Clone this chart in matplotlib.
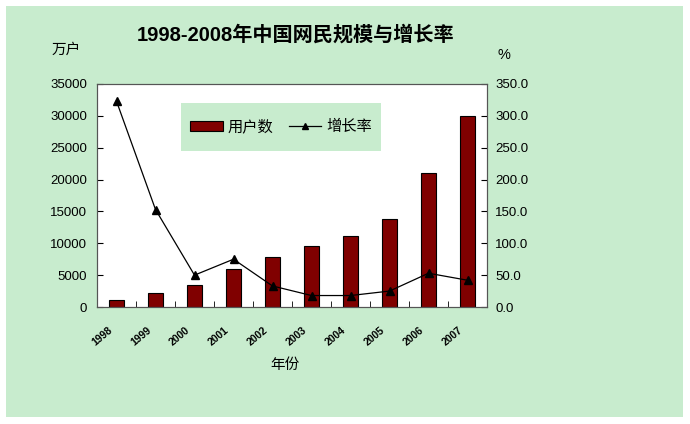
import matplotlib.pyplot as plt
from matplotlib.patches import Rectangle
from matplotlib.transforms import ScaledTranslation
import numpy as np

plt.rcParams['font.family'] = ['Liberation Sans', 'Noto Sans CJK SC']

years = ['1998', '1999', '2000', '2001', '2002', '2003', '2004', '2005', '2006', '2007']
users = [1175, 2250, 3500, 6000, 7900, 9500, 11100, 13800, 21000, 29900]
growth = [323, 153, 50, 75, 33, 18, 18, 25, 53, 42]

green = '#c8ecce'

fig = plt.figure(figsize=(6.9, 4.24), dpi=100)
fig.patch.set_facecolor('white')
# green chart area with white margin
fig.patches.append(Rectangle((6 / 690, 1 - 417 / 424), 677 / 690, 411 / 424,
                             transform=fig.transFigure, facecolor=green,
                             edgecolor='none', zorder=-10))

ax = fig.add_axes([97 / 690, 1 - 307 / 424, 390 / 690, 223 / 424])
ax.set_facecolor('white')
x = np.arange(len(years))
bars = ax.bar(x, users, width=0.41, color='#800000', edgecolor='black',
              linewidth=0.8, label='用户数')
ax.set_xlim(-0.5, len(years) - 0.5)
ax.set_ylim(0, 35000)
ax.set_yticks(range(0, 35001, 5000))
ax.tick_params(axis='y', direction='in', labelsize=9.5, length=4, pad=7)
ax.set_xticks(x)
ax.set_xticklabels(years, rotation=40, fontsize=7.5, fontweight='bold',
                   ha='right', rotation_mode='anchor')
ax.tick_params(axis='x', length=0, pad=13)
shift = ScaledTranslation(-9 / 100, 0, fig.dpi_scale_trans)
for lbl in ax.get_xticklabels():
    lbl.set_transform(lbl.get_transform() + shift)
ax.set_xticks(np.arange(-0.5, len(years), 1), minor=True)
ax.tick_params(axis='x', which='minor', direction='in', length=4)

ax2 = ax.twinx()
line, = ax2.plot(x, growth, color='black', linewidth=0.9, marker='^',
                 markersize=6, label='增长率')
ax2.set_ylim(0, 350)
ax2.set_yticks(range(0, 351, 50))
ax2.set_yticklabels([f'{v:.1f}' for v in range(0, 351, 50)])
ax2.tick_params(axis='y', direction='in', labelsize=9.5, length=4, pad=6)

for a in (ax, ax2):
    for s in a.spines.values():
        s.set_color('#555555')
        s.set_linewidth(0.8)

fig.text(296 / 690, 1 - 35 / 424, '1998-2008年中国网民规模与增长率',
         fontsize=14.5, fontweight='bold', ha='center', va='center')
fig.text(66 / 690, 1 - 50 / 424, '万户', fontsize=10.5, ha='center', va='center')
fig.text(504 / 690, 1 - 55 / 424, '%', fontsize=10.5, ha='center', va='center')
fig.text(285 / 690, 1 - 365 / 424, '年份', fontsize=10.5, ha='center', va='center')

# legend box
box = Rectangle((181 / 690, 1 - 151 / 424), 200 / 690, 48 / 424,
                transform=fig.transFigure, facecolor=green,
                edgecolor='none', zorder=4)
ax2.add_artist(box)
leg = ax2.legend([bars, line], ['用户数', '增长率'], ncol=2, loc='center',
                 bbox_to_anchor=(281 / 690, 1 - 127 / 424),
                 bbox_transform=fig.transFigure, fontsize=11, frameon=False,
                 handlelength=2.15, handleheight=0.7, columnspacing=1.0,
                 handletextpad=0.3, markerscale=0.8, borderpad=0.2)
leg.set_zorder(5)

fig.savefig('out.png', dpi=100)
